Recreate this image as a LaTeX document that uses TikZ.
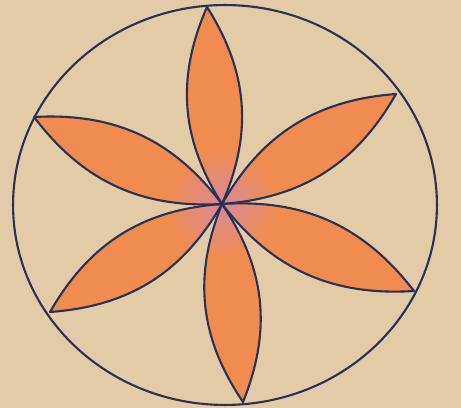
\documentclass[tikz,border=0pt]{standalone}
\usepackage{tikz}
\definecolor{paper}{HTML}{E4CBA8}
\definecolor{petal}{HTML}{F08C50}
\definecolor{petalpink}{HTML}{D98A98}
\definecolor{ink}{HTML}{2A3152}
\begin{document}
\begin{tikzpicture}[x=0.02cm,y=-0.02cm,line width=1.2pt]
  \fill[paper] (0,0) rectangle (461,408);
  \useasboundingbox (0,0) rectangle (461,408);
  \coordinate (O) at (222,204);
  \coordinate (t1) at (207,7);
  \coordinate (t2) at (396,94);
  \coordinate (t3) at (414,291);
  \coordinate (t4) at (243,402);
  \coordinate (t5) at (50,312);
  \coordinate (t6) at (34,117);
  \foreach \t in {t1,t2,t3,t4,t5,t6}
    \fill[petal] (O) to[bend left=28] (\t) to[bend left=28] (O);
  \begin{scope}
    \clip (O) to[bend left=28] (t1) to[bend left=28] (O)
          (O) to[bend left=28] (t2) to[bend left=28] (O)
          (O) to[bend left=28] (t3) to[bend left=28] (O)
          (O) to[bend left=28] (t4) to[bend left=28] (O)
          (O) to[bend left=28] (t5) to[bend left=28] (O)
          (O) to[bend left=28] (t6) to[bend left=28] (O);
    \shade[inner color=petalpink,outer color=petal] (O) circle[radius=1.1cm];
  \end{scope}
  \foreach \t in {t1,t2,t3,t4,t5,t6}
    \draw[ink,line join=round] (O) to[bend left=28] (\t) to[bend left=28] (O);
  \draw[ink] (225,205) ellipse[x radius=4.24cm,y radius=4cm];
\end{tikzpicture}
\end{document}
